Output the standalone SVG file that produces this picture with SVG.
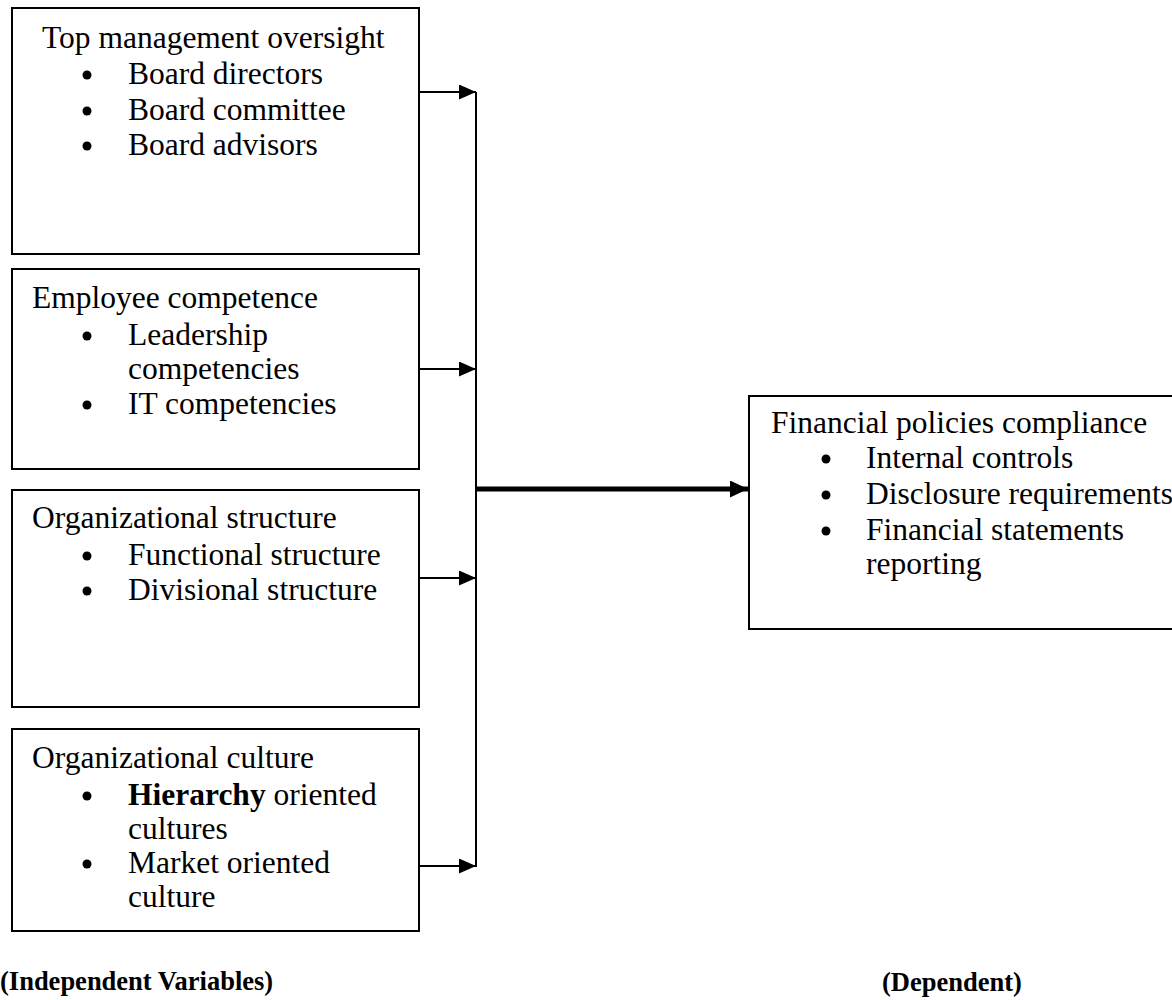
<svg xmlns="http://www.w3.org/2000/svg" width="1172" height="1000" viewBox="0 0 1172 1000">
<style>
.box{fill:#fff;stroke:#000;stroke-width:2}
.t{font-family:"Liberation Serif","Times New Roman",serif;font-size:31.5px;fill:#000}
.lbl{font-family:"Liberation Serif","Times New Roman",serif;font-size:26.5px;font-weight:bold;fill:#000}
.c{stroke:#000;stroke-width:2;fill:none}
.dot{fill:#000}
</style>
<defs>
<marker id="ah" markerWidth="17" markerHeight="15" refX="17" refY="7.5" orient="auto" markerUnits="userSpaceOnUse">
<path d="M0,0 L17,7.5 L0,15 Z" fill="#000"/>
</marker>
<marker id="ahb" markerWidth="18" markerHeight="17" refX="18" refY="8.5" orient="auto" markerUnits="userSpaceOnUse">
<path d="M0,0 L18,8.5 L0,17 Z" fill="#000"/>
</marker>
</defs>
<rect width="1172" height="1000" fill="#fff"/>
<g id="top-management">
<rect class="box" x="12" y="8" width="407" height="246"/>
<text class="t" x="42" y="48">Top management oversight</text>
<circle class="dot" cx="87" cy="75" r="4.5"/><text class="t" x="128" y="84">Board directors</text>
<circle class="dot" cx="87" cy="111" r="4.5"/><text class="t" x="128" y="120">Board committee</text>
<circle class="dot" cx="87" cy="146" r="4.5"/><text class="t" x="128" y="155">Board advisors</text>
</g>
<g id="employee-competence">
<rect class="box" x="12" y="269" width="407" height="200"/>
<text class="t" x="32" y="308">Employee competence</text>
<circle class="dot" cx="87" cy="336" r="4.5"/><text class="t" x="128" y="345">Leadership</text>
<text class="t" x="128" y="379">competencies</text>
<circle class="dot" cx="87" cy="405" r="4.5"/><text class="t" x="128" y="414">IT competencies</text>
</g>
<g id="organizational-structure">
<rect class="box" x="12" y="490" width="407" height="217"/>
<text class="t" x="32" y="528">Organizational structure</text>
<circle class="dot" cx="87" cy="556" r="4.5"/><text class="t" x="128" y="565">Functional structure</text>
<circle class="dot" cx="87" cy="591" r="4.5"/><text class="t" x="128" y="600">Divisional structure</text>
</g>
<g id="organizational-culture">
<rect class="box" x="12" y="729" width="407" height="202"/>
<text class="t" x="32" y="768">Organizational culture</text>
<circle class="dot" cx="87" cy="796" r="4.5"/><text class="t" x="128" y="805"><tspan font-weight="bold">Hierarchy</tspan> oriented</text>
<text class="t" x="128" y="839">cultures</text>
<circle class="dot" cx="87" cy="864" r="4.5"/><text class="t" x="128" y="873">Market oriented</text>
<text class="t" x="128" y="907">culture</text>
</g>
<g id="financial-compliance">
<rect class="box" x="749" y="396" width="430" height="233"/>
<text class="t" x="771" y="433">Financial policies compliance</text>
<circle class="dot" cx="826" cy="459" r="4.5"/><text class="t" x="866" y="468">Internal controls</text>
<circle class="dot" cx="826" cy="495" r="4.5"/><text class="t" x="866" y="504">Disclosure requirements</text>
<circle class="dot" cx="826" cy="531" r="4.5"/><text class="t" x="866" y="540">Financial statements</text>
<text class="t" x="866" y="574">reporting</text>
</g>
<g id="connectors">
<line class="c" x1="476" y1="92" x2="476" y2="867"/>
<line class="c" x1="419" y1="92" x2="476" y2="92" marker-end="url(#ah)"/>
<line class="c" x1="419" y1="369" x2="476" y2="369" marker-end="url(#ah)"/>
<line class="c" x1="419" y1="578" x2="476" y2="578" marker-end="url(#ah)"/>
<line class="c" x1="419" y1="866" x2="476" y2="866" marker-end="url(#ah)"/>
<line x1="477" y1="489" x2="748" y2="489" stroke="#000" stroke-width="5" marker-end="url(#ahb)"/>
</g>
<g id="labels">
<text class="lbl" x="0" y="990">(Independent Variables)</text>
<text class="lbl" x="882" y="991">(Dependent)</text>
</g>
</svg>
